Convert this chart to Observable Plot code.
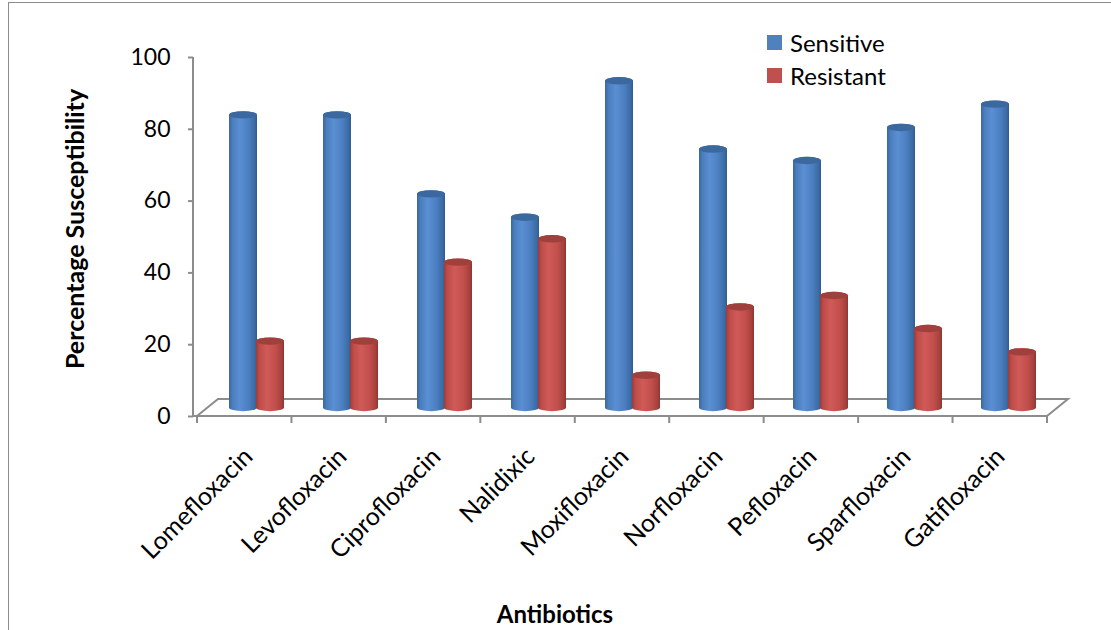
<!DOCTYPE html>
<html><head><meta charset="utf-8">
<script src="https://cdn.jsdelivr.net/npm/d3@7"></script>
<script src="https://cdn.jsdelivr.net/npm/@observablehq/plot@0.6"></script>
<style>
body{margin:0;background:#fff;}
#wrap{position:relative;width:1111px;height:630px;overflow:hidden;font-family:Lato,"Open Sans",sans-serif;color:#000;}
#frame{position:absolute;left:8px;top:2px;width:1200px;height:700px;border-left:1.5px solid #8c8c8c;border-top:1.5px solid #8c8c8c;}
#chart{position:absolute;left:0;top:0;}
.ttl{position:absolute;font-weight:bold;white-space:nowrap;}
#ytitle{left:74px;top:229px;font-size:25px;transform:translate(-50%,-50%) rotate(-90deg);}
#xtitle{left:555px;top:613px;font-size:24px;transform:translate(-50%,-50%);}
#legend{position:absolute;left:767px;top:26px;font-size:24px;}
.li{display:flex;align-items:center;height:33px;}
.sw{width:15px;height:15px;margin-right:8px;}
</style></head>
<body><div id="wrap"><div id="frame"></div><div id="chart"></div>
<div id="ytitle" class="ttl">Percentage Susceptibility</div>
<div id="xtitle" class="ttl">Antibiotics</div>
<div id="legend"></div>
</div>
<script>
const antibiotics = ["Lomefloxacin","Levofloxacin","Ciprofloxacin","Nalidixic","Moxifloxacin","Norfloxacin","Pefloxacin","Sparfloxacin","Gatifloxacin"];
const sensitive = [81.5, 81.5, 59.5, 53, 91, 72, 68.8, 78, 84.5];
const resistant = [18.5, 18.5, 40.5, 47, 9, 28, 31.2, 22, 15.5];
const seriesNames = ["Sensitive", "Resistant"];
const seriesColors = ["#4F81BD", "#C0504D"];
const yTicks = [0, 20, 40, 60, 80, 100];

const sData = antibiotics.map((a, i) => ({a, v: sensitive[i]}));
const rData = antibiotics.map((a, i) => ({a, v: resistant[i]}));

const W = 1111, H = 630;
const ML = 197, MR = 64, MT = 57, MB = 214;
const depthX = 21, depthY = -17;
const barDy = depthY / 2;
const RX = 14, RY = 3.7;
const axisGray = "#8c8c8c";

function defs() {
  const ns = "http://www.w3.org/2000/svg";
  const d = document.createElementNS(ns, "defs");
  d.innerHTML = `
  <linearGradient id="gBlue" x1="0" x2="1" y1="0" y2="0">
    <stop offset="0" stop-color="#3a679e"/>
    <stop offset="0.12" stop-color="#4a7dbb"/>
    <stop offset="0.38" stop-color="#5a8fd4"/>
    <stop offset="0.7" stop-color="#4b7fc0"/>
    <stop offset="0.92" stop-color="#3c6aa3"/>
    <stop offset="1" stop-color="#2f5a8e"/>
  </linearGradient>
  <linearGradient id="gRed" x1="0" x2="1" y1="0" y2="0">
    <stop offset="0" stop-color="#9c3b38"/>
    <stop offset="0.12" stop-color="#bd4c49"/>
    <stop offset="0.38" stop-color="#d05a57"/>
    <stop offset="0.7" stop-color="#c24f4c"/>
    <stop offset="0.92" stop-color="#a5403d"/>
    <stop offset="1" stop-color="#8e3431"/>
  </linearGradient>`;
  return d;
}

function floor(index, scales, values, dims) {
  const {width, marginLeft, marginRight} = dims;
  const ns = "http://www.w3.org/2000/svg";
  const y0 = scales.y(0);
  const x0 = marginLeft, x1 = width - marginRight;
  const g = document.createElementNS(ns, "g");
  const p = d3.path();
  p.moveTo(x0 - 4, y0); p.lineTo(x1, y0);
  p.lineTo(x1 + depthX, y0 + depthY);
  p.lineTo(x0 + depthX, y0 + depthY);
  p.lineTo(x0, y0);
  p.moveTo(x0 - 4, scales.y(100)); p.lineTo(x0 - 4, y0);
  const n = antibiotics.length, bw = (x1 - x0) / n;
  for (let i = 0; i <= n; i++) { p.moveTo(x0 + i * bw, y0); p.lineTo(x0 + i * bw, y0 + 7); }
  const path = document.createElementNS(ns, "path");
  path.setAttribute("d", p.toString());
  path.setAttribute("fill", "none");
  path.setAttribute("stroke", axisGray);
  path.setAttribute("stroke-width", 2);
  g.appendChild(path);
  return g;
}

const plot = Plot.plot({
  width: W, height: H,
  marginLeft: ML, marginRight: MR, marginTop: MT, marginBottom: MB,
  style: {fontFamily: "Lato, 'Open Sans', sans-serif", fontSize: "23px", color: "#000", background: "transparent"},
  x: {type: "band", domain: antibiotics, padding: 0, label: null},
  y: {domain: [0, 100], label: null},
  marks: [
    defs,
    floor,
    Plot.axisY({ticks: yTicks, tickSize: 5, tickPadding: 18, dx: -4, stroke: axisGray, strokeWidth: 2, fontSize: 23, label: null}),
    Plot.axisX({tickSize: 0, tickRotate: -45, tickPadding: 36, dx: 2, fontSize: 25, label: null}),
    Plot.barY(sData, {x: "a", y1: 0, y2: "v", fill: "url(#gBlue)", insetLeft: 30, insetRight: 36, insetTop: -RY, insetBottom: -RY, rx: RX, ry: RY, dy: barDy}),
    Plot.barY(sData, {x: "a", y1: "v", y2: "v", fill: "#3c68a0", insetLeft: 30, insetRight: 36, insetTop: -RY, insetBottom: -RY, rx: RX, ry: RY, dy: barDy}),
    Plot.barY(rData, {x: "a", y1: 0, y2: "v", fill: "url(#gRed)", insetLeft: 57, insetRight: 9, insetTop: -RY, insetBottom: -RY, rx: RX, ry: RY, dy: barDy}),
    Plot.barY(rData, {x: "a", y1: "v", y2: "v", fill: "#a0403d", insetLeft: 57, insetRight: 9, insetTop: -RY, insetBottom: -RY, rx: RX, ry: RY, dy: barDy})
  ]
});
document.getElementById("chart").appendChild(plot);

const leg = document.getElementById("legend");
seriesNames.forEach((s, i) => {
  const row = document.createElement("div"); row.className = "li";
  const sw = document.createElement("div"); sw.className = "sw"; sw.style.background = seriesColors[i];
  const t = document.createElement("span"); t.textContent = s;
  row.appendChild(sw); row.appendChild(t); leg.appendChild(row);
});
</script>
</body></html>
